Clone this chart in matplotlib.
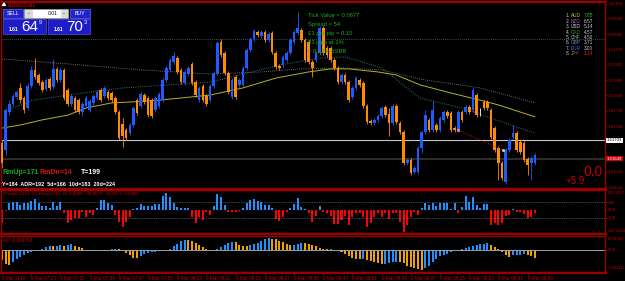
import numpy as np
import matplotlib
matplotlib.use("Agg")
import matplotlib.pyplot as plt
from matplotlib.patches import Rectangle
from matplotlib.lines import Line2D
import matplotlib.transforms as mtransforms

plt.rcParams['font.family'] = ['Liberation Sans', 'DejaVu Sans']

# ---- data (EURNZD M1, prices in points above 1.61000) ----
base = 1.61000
o_pts = [695, 674, 786, 810, 830, 857, 827, 798, 863, 910, 895, 874, 854, 883, 860, 913, 880, 910, 851, 810,
         827, 821, 786, 804, 792, 813, 827, 851, 833, 845, 842, 827, 786, 751, 733, 724, 748, 821, 804, 836,
         827, 821, 792, 804, 821, 880, 910, 933, 945, 910, 871, 898, 927, 874, 821, 863, 833, 821, 863, 901,
         992, 960, 901, 830, 889, 866, 866, 916, 968, 1001, 1021, 1010, 1021, 998, 1018, 960, 921, 924, 939, 960,
         992, 1018, 1027, 998, 992, 933, 939, 960, 1033, 974, 974, 939, 916, 874, 895, 874, 830, 857, 880, 871,
         804, 760, 754, 763, 774, 801, 780, 754, 804, 754, 727, 636, 645, 610, 610, 680, 727, 763, 733, 748,
         733, 763, 786, 783, 739, 733, 786, 786, 801, 792, 836, 786, 816, 816, 792, 739, 680, 636, 580, 674,
         713, 724, 698, 695, 648, 636, 636]
h_pts = [704, 798, 821, 839, 851, 871, 833, 871, 921, 945, 901, 880, 886, 889, 942, 918, 916, 916, 857, 839,
         833, 827, 816, 833, 824, 839, 851, 857, 863, 851, 848, 833, 792, 769, 739, 754, 804, 827, 845, 842,
         833, 827, 833, 845, 886, 921, 945, 963, 951, 916, 910, 921, 933, 880, 863, 869, 839, 869, 907, 995,
         1001, 965, 907, 886, 895, 886, 921, 974, 1007, 1030, 1027, 1027, 1027, 1021, 1024, 965, 927, 954, 965, 1004,
         1027, 1080, 1033, 1004, 998, 939, 965, 1039, 1039, 980, 980, 945, 921, 901, 901, 880, 863, 892, 886, 877,
         810, 766, 769, 780, 804, 807, 798, 810, 810, 760, 733, 651, 651, 627, 686, 733, 792, 769, 821, 754,
         774, 792, 792, 789, 745, 792, 792, 807, 807, 857, 842, 798, 821, 821, 798, 745, 686, 642, 680, 710,
         748, 730, 704, 701, 654, 657, 666]
l_pts = [622, 660, 777, 804, 824, 813, 783, 792, 857, 883, 866, 845, 848, 851, 854, 874, 874, 821, 804, 804,
         786, 780, 774, 798, 786, 807, 821, 816, 827, 821, 816, 780, 704, 683, 704, 719, 742, 777, 798, 810,
         772, 769, 786, 798, 816, 874, 904, 927, 898, 869, 866, 892, 866, 830, 816, 816, 804, 816, 857, 895,
         948, 895, 839, 824, 824, 860, 860, 910, 963, 995, 1007, 1004, 992, 992, 957, 913, 910, 918, 933, 954,
         986, 1013, 992, 933, 927, 889, 933, 954, 954, 948, 933, 910, 869, 869, 869, 816, 824, 851, 860, 798,
         751, 748, 748, 757, 769, 772, 716, 748, 751, 721, 630, 630, 601, 604, 604, 666, 721, 727, 727, 727,
         727, 757, 769, 727, 727, 727, 757, 780, 780, 786, 772, 774, 792, 792, 707, 669, 586, 586, 574, 669,
         707, 669, 663, 639, 601, 586, 630]
c_pts = [636, 792, 810, 833, 845, 821, 792, 863, 910, 889, 871, 851, 880, 857, 913, 880, 910, 827, 810, 833,
         792, 786, 810, 827, 819, 833, 845, 821, 857, 827, 821, 786, 710, 716, 710, 748, 798, 783, 839, 816,
         777, 774, 827, 839, 880, 916, 939, 951, 904, 874, 904, 916, 871, 836, 857, 821, 810, 863, 901, 989,
         954, 901, 845, 880, 830, 880, 916, 968, 1001, 1024, 1013, 1021, 998, 1016, 963, 918, 916, 948, 960, 998,
         1021, 1033, 998, 939, 933, 916, 960, 1033, 960, 954, 939, 916, 874, 895, 874, 821, 857, 886, 866, 804,
         757, 754, 763, 774, 798, 777, 754, 804, 757, 727, 636, 645, 607, 622, 680, 727, 777, 733, 792, 733,
         769, 786, 774, 733, 733, 786, 763, 801, 786, 851, 777, 786, 798, 798, 713, 674, 636, 592, 674, 704,
         724, 674, 669, 645, 630, 651, 660]

cci = [-177, -10, 89, 102, 102, 66, 89, 89, 124, 142, 89, 53, 53, 22, 102, 53, 102, -44, -177, -133,
       -111, -111, -22, -89, -44, -66, 22, 133, 133, 89, 66, -66, -155, -222, -155, -89, 9, 22, 80, 53,
       53, 53, 80, 80, 186, 222, 177, 89, 44, 22, 22, 22, -89, -177, -89, -133, -22,
       -66, 53, 213, 168, 66, -22, -22, -31, -9, 22, 89, 133, 142, 120, 102, 66, 66, 22, -124, -142,
       -89, -22, 22, 80, 155, 44, 9, -44, -155, -80, 53, -22, -44, -80, -190, -190, -133, -80, -199, -89,
       -44, -44, -89, -222, -177, -89, -44, -89, -44, -124, -44, -44, -155, -288, -199, -97, -22,
       -66, 22, 89, 66, 97, 53, 97, 97, 97, 9, 97, -44, 44, 186, 111, 168, 66, 22, 80, 80,
       -199, -177, -199, -177, -80, -66, 9, -31, -31, -58, -111, -97, -35]

ao_pts = [-100, -132, -148, -116, -85, -69, -53, -31, -22, -13, -6, 9, 25, 38, 31, 38, 41, 31, 47, 50,
          31, 25, 16, -6, -13, -15, -12, -16, -13, -6, 6, 9, 3, -13, -31, -53, -75, -78, -63, -44,
          -31, -22, -20, -16, -13, -6, 9, 31, 57, 79, 88, 86, 79, 63, 47, 25, 9, 0,
          0, 9, 25, 47, 66, 69, 68, 47, 35, 31, 41, 53, 66, 85, 100, 107, 104, 97, 85, 69,
          57, 41, 47, 57, 66, 65, 57, 47, 31, 16, 9, 3, 6, 0, -1, -22, -44, -57, -75, -88,
          -89, -85, -94, -110, -119, -126, -138, -132, -130, -116, -114, -119, -122, -154, -160, -170, -179,
          -188, -170, -157, -116, -85, -63, -53, -38, -22, -16, -6, 9, 16, 25, 38, 47, 50, 57, 58, 41,
          25, 9, -22, -53, -69, -53, -50, -47, -44, -50, -63, -79]

# moving averages (knots at bar index, points above base)
ma_fast_x = [0, 8.5, 22, 33, 46, 57, 65, 76, 87, 94, 104, 114.5, 126, 137, 146]
ma_fast = [786, 821, 842, 857, 866, 874, 895, 924, 945, 948, 916, 827, 798, 757, 724]
ma_mid_x = [0, 5, 11, 18, 23, 30, 36, 43, 57, 66, 75, 84, 90, 95, 103, 108, 114.5, 123, 131, 136, 146]
ma_mid = [739, 748, 763, 777, 798, 813, 816, 821, 836, 857, 886, 904, 913, 913, 904, 895, 866, 842, 821, 807, 772]
ma_slow_x = [0, 18.6, 38, 57, 71, 82, 93, 104, 114.5, 131, 146]
ma_slow = [942, 927, 910, 898, 904, 913, 916, 910, 883, 857, 813]

ask = 1.61703
bid = 1.61649
level = 1.62000

price_ticks = [1.61565, 1.61610, 1.61655, 1.61700, 1.61745, 1.61790, 1.61835, 1.61880,
               1.61925, 1.61970, 1.62015, 1.62060, 1.62105]
time_labels = ['9 Mar 2016', '9 Mar 07:23', '9 Mar 07:31', '9 Mar 07:39', '9 Mar 07:47', '9 Mar 07:55',
               '9 Mar 08:03', '9 Mar 08:11', '9 Mar 08:19', '9 Mar 08:27', '9 Mar 08:35', '9 Mar 08:43',
               '9 Mar 08:51', '9 Mar 08:59', '9 Mar 09:07', '9 Mar 09:15', '9 Mar 09:23', '9 Mar 09:31',
               '9 Mar 09:39']

currencies = ['AUD', 'NZD', 'USD', 'CAD', 'CHF', 'GBP', 'EUR', 'JPY']
strength = [7.85, 6.57, 5.14, 4.57, 4.50, 3.71, 3.00, 1.14]
info_lines = ['Tick Value = 0.0677', 'Spread = 54', '\u00a31 per pip = 0.15', '83 pips at 1%', '= 0.02% 6SBB']

# ---- colours ----
RED = '#c80000'
FRAME = '#9a0000'
BULL = '#1f5cff'
BEAR = '#ff8c00'
AXFS = 3.1

W, H = 625, 281


def fx(x):
    return x / W


def fy(y):
    return 1 - y / H


fig = plt.figure(figsize=(6.25, 2.81), dpi=100, facecolor='black')
ax = fig.add_axes([fx(1), fy(188), 604 / W, 186 / H])
ax_cci = fig.add_axes([fx(1), fy(233), 604 / W, 43 / H])
ax_ao = fig.add_axes([fx(1), fy(272), 604 / W, 36 / H])

idx = np.arange(len(c_pts))
o = base + np.array(o_pts) * 1e-5
h = base + np.array(h_pts) * 1e-5
l = base + np.array(l_pts) * 1e-5
c = base + np.array(c_pts) * 1e-5

for a in (ax, ax_cci, ax_ao):
    a.set_facecolor('black')
    a.set_xlim(-0.3, 165.2)
    for s in a.spines.values():
        s.set_color(FRAME)
        s.set_linewidth(1.0)
    a.tick_params(axis='y', which='both', left=False, right=True, labelleft=False, labelright=True,
                  colors=RED, labelcolor=RED, length=1.5, width=0.5, labelsize=AXFS, pad=0.6)
    a.tick_params(axis='x', bottom=False, labelbottom=False)

# ---- main price window ----
ax.set_ylim(1.615628, 1.621096)
ax.axhline(level, color='#2f7f70', lw=0.6, ls=(0, (1, 1.5)), zorder=1)
ax.plot(ma_slow_x, base + np.array(ma_slow) * 1e-5, color='#8a8a8a', lw=0.6, ls=(0, (1, 1.5)), zorder=1)
ax.plot(ma_fast_x, base + np.array(ma_fast) * 1e-5, color='#237a78', lw=0.7, ls=(0, (1, 1.3)), zorder=1)
ax.plot(ma_mid_x, base + np.array(ma_mid) * 1e-5, color='#b4b428', lw=0.7, zorder=1)
ax.axhline(ask, color='#c8c8c8', lw=0.8, zorder=1)
ax.axhline(bid, color='#3a3a3a', lw=1.1, zorder=1)

cols = [BULL if cc > oo else (BEAR if cc < oo else 'white') for oo, cc in zip(o, c)]
ax.vlines(idx, l, h, colors=cols, lw=0.6, zorder=2)
body = np.maximum(np.abs(c - o), 0.000012)
ax.bar(idx, body, bottom=np.minimum(o, c), width=0.72, color=cols, linewidth=0, zorder=3)

# closed trade marker
ax.plot([124.9, 137.3], [base + 733e-5, base + 674e-5], color='#d01010', lw=0.6, ls=(0, (1, 1.2)), zorder=4)
ax.plot([124.9], [base + 733e-5], 'o', ms=1.8, mfc='#ff4040', mec='white', mew=0.3, zorder=5)
ax.plot([137.3], [base + 674e-5], 'o', ms=1.8, mfc='#ffc040', mec='white', mew=0.3, zorder=5)

ax.set_yticks(price_ticks)
ax.set_yticklabels(['%.5f' % p if p not in (1.61700, 1.61655) else '' for p in price_ticks])
bt = mtransforms.blended_transform_factory(ax.transAxes, ax.transData)
ax.text(1.003, ask, '%.5f' % ask, transform=bt, fontsize=AXFS, color='black', va='center', ha='left',
        bbox=dict(facecolor='white', edgecolor='none', pad=0.4), clip_on=False)
ax.text(1.003, bid, '%.5f' % bid, transform=bt, fontsize=AXFS, color='white', va='center', ha='left',
        bbox=dict(facecolor='#d00000', edgecolor='none', pad=0.4), clip_on=False)

# ---- CCI window ----
ax_cci.set_ylim(-306, 266)
cci_cols = ['#1e90ff' if v >= 0 else '#ff0000' for v in cci]
ax_cci.bar(idx, cci, width=0.55, color=cci_cols, linewidth=0)
for lv in (100, -100):
    ax_cci.axhline(lv, color='#8a8a8a', lw=0.5, ls=(0, (1, 1.5)))
ax_cci.set_yticks([100, 0, -100])
ax_cci.set_yticklabels(['100', '0.00', '-100'])

# ---- AO window ----
ax_ao.set_ylim(-0.002111, 0.001283)
ao = np.array(ao_pts) * 1e-5
ao_cols = ['#f0a000' if i == 0 or ao[i] < ao[i - 1] else '#1e90ff' for i in range(len(ao))]
ax_ao.bar(idx, ao, width=0.55, color=ao_cols, linewidth=0)
ax_ao.axhline(0, color='#a0a0a0', lw=0.7)
ax_ao.set_yticks([0])
ax_ao.set_yticklabels(['0.00'])
ax_ao.tick_params(axis='x', bottom=True, labelbottom=True, colors=RED, labelcolor=RED,
                  length=2, width=0.5, labelsize=3.3, pad=1)
ax_ao.set_xticks(np.arange(len(time_labels)) * 8)
ax_ao.set_xticklabels(time_labels)
for t in ax_ao.get_xticklabels():
    t.set_horizontalalignment('left')

# scale extremes on the right
fig.text(fx(607.5), fy(193), '288.1297', fontsize=2.9, color=RED, va='center')
fig.text(fx(607.5), fy(231), '-287.0426', fontsize=2.9, color=RED, va='center')
fig.text(fx(607.5), fy(239), '0.001283', fontsize=2.9, color=RED, va='center')
fig.text(fx(607.5), fy(268), '-0.002111', fontsize=2.9, color=RED, va='center')

# window separators
for yy in (189.5, 234, 273):
    fig.add_artist(Line2D([0, fx(606)], [fy(yy), fy(yy)], color=FRAME, lw=1.6, transform=fig.transFigure))
fig.add_artist(Line2D([0, fx(606)], [fy(1), fy(1)], color=FRAME, lw=1.0, transform=fig.transFigure))

# ---- text overlays ----
fig.text(fx(3), fy(193.5), '(TrendCCI(13, 13, EntryCCI(1, 0)  0.0000  -30.9579  -30.9579  0.0000',
         fontsize=3.2, color=RED, va='center')
fig.text(fx(3), fy(240), 'AO -0.000753', fontsize=3.4, color=RED, va='center')

fig.text(fx(3), fy(173), 'RmUp=171', fontsize=5, color='#10b010', fontweight='bold', va='center')
fig.text(fx(40), fy(173), 'RmDn=14', fontsize=5, color='#e01010', fontweight='bold', va='center')
fig.text(fx(81), fy(173), 'T=199', fontsize=5, color='white', fontweight='bold', va='center')
fig.text(fx(2), fy(185), 'Y=184  ADR=192  5d=166  10d=183  20d=224', fontsize=3.9, color='white',
         fontweight='bold', va='center')

for k, s in enumerate(info_lines):
    fig.text(fx(308), fy(15.7 + 9 * k), s, fontsize=4.2, color='#18b018', va='center')

name_cols = ['#d8d800', '#b048d8', '#d8d8d8', '#20a020', '#a8a8a8', '#6090c8', '#4868e8', '#c06030']
for k, (cur, v) in enumerate(zip(currencies, strength)):
    yy = fy(15.7 + 5.45 * k)
    vcol = '#20d020' if k == 0 else ('#e02020' if k == len(currencies) - 1 else '#c8c8c8')
    fig.text(fx(566), yy, '%d.' % (k + 1), fontsize=3.4, color='#c8c8c8', va='center')
    fig.text(fx(571), yy, cur, fontsize=3.4, color=name_cols[k], va='center')
    fig.text(fx(584), yy, '%.2f' % v, fontsize=3.4, color=vcol, va='center')

fig.text(fx(603), fy(172.5), '0.0', fontsize=10, color='#c00000', va='center', ha='right')
fig.text(fx(585), fy(181.5), '+5.9', fontsize=7, color='#c00000', va='center', ha='right')

# chart title
fig.text(fx(8), fy(4.3), 'EURNZD,M1', fontsize=3.4, color='#b00000', va='center', fontweight='bold')
fig.add_artist(plt.Polygon([[fx(2.5), fy(5.5)], [fx(5.5), fy(5.5)], [fx(4), fy(3)]], closed=True,
                           color='white', transform=fig.transFigure))


# ---- one-click trading panel ----
def box(x0, y0, x1, y1, fc, ec=None):
    fig.add_artist(Rectangle((fx(x0), fy(y1)), (x1 - x0) / W, (y1 - y0) / H, transform=fig.transFigure,
                             facecolor=fc, edgecolor=ec if ec else fc, linewidth=0.5))


box(3, 9, 23, 18, '#2222d0', '#6a6af0')
box(70, 9, 90, 18, '#2222d0', '#6a6af0')
box(24, 9, 68, 18, 'white', '#a0a0a0')
box(25, 10, 32, 17, '#d8d8d8')
box(61, 10, 67, 17, '#d8d8d8')
box(3, 19, 46, 34, '#1c1cc8', '#5050e8')
box(48, 19, 90, 34, '#1c1cc8', '#5050e8')
fig.text(fx(13), fy(13.5), 'SELL', fontsize=3.8, color='white', ha='center', va='center')
fig.text(fx(80), fy(13.5), 'BUY', fontsize=3.8, color='white', ha='center', va='center')
fig.text(fx(28.5), fy(13.3), '-', fontsize=4, color='black', ha='center', va='center')
fig.text(fx(64), fy(13.3), '-', fontsize=4, color='black', ha='center', va='center')
fig.text(fx(58), fy(13.5), '0.01', fontsize=3.6, color='black', ha='right', va='center')
for x0, big, sup in ((9, '64', '9'), (54, '70', '3')):
    fig.text(fx(x0), fy(29.5), '1.61', fontsize=3.6, color='white', va='center', fontweight='bold')
    fig.text(fx(x0 + 12), fy(27), big, fontsize=11, color='white', va='center')
    fig.text(fx(x0 + 29.5), fy(22.5), sup, fontsize=4, color='white', va='center')

fig.savefig('out.png', dpi=100, facecolor='black')
